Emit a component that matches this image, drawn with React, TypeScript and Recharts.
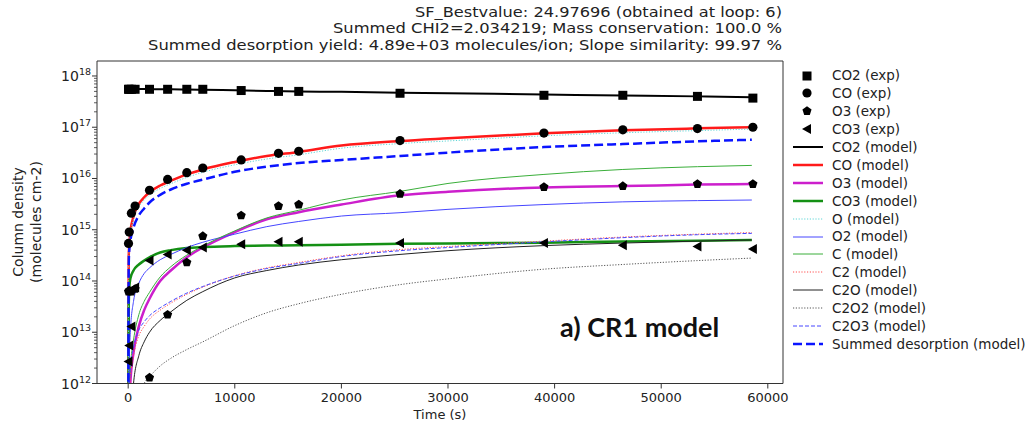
import React from 'react';
import { ComposedChart, Line, Scatter, XAxis, YAxis, Legend, ReferenceLine } from 'recharts';

const FONT = '"DejaVu Sans", "Liberation Sans", sans-serif';

// ---------- Data ----------
const titleLines = [
  'SF_Bestvalue: 24.97696 (obtained at loop: 6)',
  'Summed CHI2=2.034219; Mass conservation: 100.0 %',
  'Summed desorption yield: 4.89e+03 molecules/ion; Slope similarity: 99.97 %',
];
const titleWidths = [367, 449, 634];
const xTicks = [0, 10000, 20000, 30000, 40000, 50000, 60000];
const yMajorExp = [12, 13, 14, 15, 16, 17, 18];

const expTimes = [30, 100, 300, 650, 2000, 3700, 5500, 7000, 10600, 14100, 16000, 25500, 39000, 46400, 53400, 58600];
const co2Exp = [5.5e17, 5.5e17, 5.5e17, 5.5e17, 5.5e17, 5.5e17, 5.5e17, 5.5e17, 5.2e17, 5.0e17, 5.0e17, 4.6e17, 4.2e17, 4.2e17, 4.0e17, 3.7e17];
const coExp = [5.4e14, 9e14, 2.1e15, 2.9e15, 5.9e15, 9.6e15, 1.3e16, 1.6e16, 2.3e16, 3.1e16, 3.4e16, 5.5e16, 7.7e16, 8.9e16, 9.4e16, 1.0e17];
const o3Exp = [6.2e13, 6.5e13, 6.2e13, 7e13, 1.3e12, 2.2e13, 2.3e14, 7.5e14, 1.9e15, 2.9e15, 3.1e15, 5e15, 6.8e15, 7.1e15, 7.8e15, 7.8e15];
const co3Exp = [2.7e12, 5.5e12, 1.3e13, 7.5e13, 2.5e14, 3.3e14, 4.0e14, 4.5e14, 5.2e14, 5.8e14, 5.8e14, 5.5e14, 5.5e14, 5.0e14, 4.7e14, 4.2e14];

const modelTimes = [0, 50, 100, 200, 500, 1000, 1500, 2000, 3000, 4000, 5500, 7000, 10000, 13000, 16000, 20000, 25500, 30000, 39000, 46400, 53400, 58500];
const co2Model = [5.6e17, 5.6e17, 5.6e17, 5.6e17, 5.6e17, 5.6e17, 5.55e17, 5.55e17, 5.5e17, 5.5e17, 5.45e17, 5.4e17, 5.25e17, 5.1e17, 5.0e17, 4.9e17, 4.7e17, 4.6e17, 4.35e17, 4.15e17, 4.0e17, 3.85e17];
const coModel = [1e10, 3e14, 5e14, 9e14, 1.8e15, 3.2e15, 4.3e15, 5.4e15, 7.3e15, 9e15, 1.2e16, 1.5e16, 2.1e16, 2.75e16, 3.3e16, 4.4e16, 5.4e16, 6.1e16, 7.6e16, 8.7e16, 9.5e16, 1.0e17];
const o3Model = [1e10, 1e11, 3e11, 1e12, 4e12, 1.3e13, 2.7e13, 4.5e13, 1e14, 1.6e14, 2.9e14, 4.5e14, 9e14, 1.6e15, 2.2e15, 3.1e15, 4.7e15, 5.5e15, 6.7e15, 7.1e15, 7.6e15, 7.8e15];
const co3Model = [1e10, 3e13, 7e13, 1.1e14, 1.6e14, 2.1e14, 2.5e14, 2.9e14, 3.6e14, 4.0e14, 4.4e14, 4.6e14, 4.8e14, 4.9e14, 5.0e14, 5.1e14, 5.3e14, 5.4e14, 5.6e14, 5.9e14, 6.1e14, 6.3e14];
const oModel = [1e10, 2.5e14, 4.3e14, 7.8e14, 1.6e15, 2.8e15, 3.8e15, 4.7e15, 6.4e15, 7.9e15, 1.05e16, 1.32e16, 1.85e16, 2.4e16, 2.9e16, 3.9e16, 4.8e16, 5.4e16, 6.8e16, 7.8e16, 8.6e16, 9.2e16];
const o2Model = [1e10, 1e12, 3e12, 1e13, 4e13, 9e13, 1.4e14, 1.8e14, 2.6e14, 3.3e14, 4.5e14, 5.7e14, 8.2e14, 1.15e15, 1.45e15, 1.85e15, 2.15e15, 2.5e15, 3.1e15, 3.5e15, 3.7e15, 3.8e15];
const cModel = [1e10, 3e11, 8e11, 2e12, 7e12, 2.2e13, 4e13, 6e13, 1.2e14, 1.9e14, 3.2e14, 4.8e14, 9.5e14, 1.7e15, 2.4e15, 3.8e15, 5.6e15, 8e15, 1.2e16, 1.5e16, 1.7e16, 1.8e16];
const c2Model = [1e10, 1e11, 4e11, 1.2e12, 3.5e12, 8.5e12, 1.3e13, 1.8e13, 2.7e13, 3.7e13, 5.5e13, 7.6e13, 1.27e14, 1.8e14, 2.3e14, 3.1e14, 4.1e14, 4.7e14, 6.0e14, 7.2e14, 8.2e14, 8.8e14];
const c2oModel = [1e10, 1e10, 3e10, 1e11, 1e12, 3.5e12, 6.5e12, 1e13, 1.7e13, 2.5e13, 4.2e13, 6.2e13, 1.15e14, 1.6e14, 2.05e14, 2.6e14, 3.3e14, 3.9e14, 4.9e14, 5.5e14, 6e14, 6.3e14];
const c2o2Model = [1e10, 1e10, 1e10, 1e10, 1e11, 5e11, 1e12, 1.35e12, 2.2e12, 3.1e12, 4.6e12, 6.5e12, 1.35e13, 2.4e13, 3.6e13, 5.5e13, 8.5e13, 1.1e14, 1.7e14, 2.1e14, 2.5e14, 2.8e14];
const c2o3Model = [1e10, 3e11, 8e11, 2e12, 5e12, 1.1e13, 1.6e13, 2.1e13, 3e13, 4e13, 5.8e13, 7.8e13, 1.25e14, 1.75e14, 2.2e14, 3.0e14, 3.9e14, 4.5e14, 5.8e14, 7e14, 8e14, 8.5e14];
const summedModel = [1e10, 2e14, 4e14, 6e14, 1.1e15, 1.9e15, 2.6e15, 3.4e15, 4.8e15, 6.1e15, 7.9e15, 9.5e15, 1.35e16, 1.7e16, 2.0e16, 2.3e16, 2.75e16, 3.2e16, 4.1e16, 4.7e16, 5.3e16, 5.7e16];

// ---------- Helpers ----------
const toPoints = (ts: number[], vs: number[]) => ts.map((t, i) => ({ t, v: vs[i] }));

type Shape = 'square' | 'circle' | 'pentagon' | 'tri';

const drawMarker = (shape: Shape, cx: number, cy: number, key?: string) => {
  if (shape === 'square') return <rect key={key} x={cx - 4.5} y={cy - 4.5} width={9} height={9} fill="#000" />;
  if (shape === 'circle') return <circle key={key} cx={cx} cy={cy} r={4.6} fill="#000" />;
  if (shape === 'pentagon') {
    const r = 4.8;
    const pts = [0, 1, 2, 3, 4]
      .map((k) => {
        const a = -Math.PI / 2 + (k * 2 * Math.PI) / 5;
        return `${cx + r * Math.cos(a)},${cy + r * Math.sin(a)}`;
      })
      .join(' ');
    return <polygon key={key} points={pts} fill="#000" />;
  }
  return <polygon key={key} points={`${cx - 5},${cy} ${cx + 4},${cy - 5} ${cx + 4},${cy + 5}`} fill="#000" />;
};

const expSeries: { name: string; values: number[]; shape: Shape }[] = [
  { name: 'CO2 (exp)', values: co2Exp, shape: 'square' },
  { name: 'CO (exp)', values: coExp, shape: 'circle' },
  { name: 'O3 (exp)', values: o3Exp, shape: 'pentagon' },
  { name: 'CO3 (exp)', values: co3Exp, shape: 'tri' },
];

const modelSeries: { name: string; values: number[]; color: string; width: number; dash?: string }[] = [
  { name: 'CO2 (model)', values: co2Model, color: '#000000', width: 2 },
  { name: 'CO (model)', values: coModel, color: '#ff1a1a', width: 2.5 },
  { name: 'O3 (model)', values: o3Model, color: '#cc1fcc', width: 2.5 },
  { name: 'CO3 (model)', values: co3Model, color: '#149014', width: 2.5 },
  { name: 'O (model)', values: oModel, color: '#5fd6d6', width: 1, dash: '1.2 1.6' },
  { name: 'O2 (model)', values: o2Model, color: '#4646ff', width: 1 },
  { name: 'C (model)', values: cModel, color: '#3aae3a', width: 1 },
  { name: 'C2 (model)', values: c2Model, color: '#ff4d4d', width: 1, dash: '1.2 1.6' },
  { name: 'C2O (model)', values: c2oModel, color: '#222222', width: 1 },
  { name: 'C2O2 (model)', values: c2o2Model, color: '#555555', width: 1, dash: '1.2 1.6' },
  { name: 'C2O3 (model)', values: c2o3Model, color: '#4646ff', width: 1, dash: '4 2' },
  { name: 'Summed desorption (model)', values: summedModel, color: '#0a14ff', width: 2.5, dash: '9 4' },
];

const yTicks: number[] = [];
yMajorExp.forEach((e) => {
  yTicks.push(Math.pow(10, e));
  if (e < 18) for (let m = 2; m <= 9; m++) yTicks.push(m * Math.pow(10, e));
});

const LogTick = (props: any) => {
  const { x, y, payload } = props;
  const v = payload.value;
  const e = Math.log10(v);
  const major = Math.abs(e - Math.round(e)) < 1e-6;
  return (
    <g>
      <line x1={x - (major ? 5 : 3)} x2={x} y1={y} y2={y} stroke="#333" strokeWidth={major ? 1 : 0.8} />
      {major && (
        <text x={x - 6} y={y + 5} textAnchor="end" fontFamily={FONT} fontSize={14} fill="#222">
          10
          <tspan dy={-6} fontSize={9.5}>{Math.round(e)}</tspan>
        </text>
      )}
    </g>
  );
};

const LegendContent = () => {
  const rows = [
    ...expSeries.map((s) => ({ name: s.name, shape: s.shape as Shape | null, color: '', width: 0, dash: undefined as string | undefined })),
    ...modelSeries.map((s) => ({ name: s.name, shape: null as Shape | null, color: s.color, width: s.width, dash: s.dash })),
  ];
  return (
    <div style={{ fontFamily: FONT, fontSize: 13.5, color: '#222' }}>
      {rows.map((r) => (
        <div key={r.name} style={{ display: 'flex', alignItems: 'center', height: 17.9 }}>
          <svg width={47} height={17.9} style={{ flex: 'none' }}>
            {r.shape ? (
              drawMarker(r.shape, 22, 9, r.name)
            ) : (
              <line x1={8} x2={38} y1={9} y2={9} stroke={r.color} strokeWidth={r.width} strokeDasharray={r.dash} />
            )}
          </svg>
          <span style={{ whiteSpace: 'nowrap' }}>{r.name}</span>
        </div>
      ))}
    </div>
  );
};

const X_DOMAIN: [number, number] = [-2925, 61425];
const Y_DOMAIN: [number, number] = [1e12, 1.96e18];

export default function App() {
  return (
    <div style={{ position: 'absolute', left: 0, top: 0, width: 1030, height: 425, background: '#fff' }}>
      <ComposedChart width={1030} height={425} margin={{ top: 61, right: 247, bottom: 11.5, left: 37 }}>
        <XAxis
          dataKey="t"
          type="number"
          domain={X_DOMAIN}
          allowDataOverflow
          ticks={xTicks}
          interval={0}
          height={30}
          tickSize={5}
          tickMargin={4}
          tick={{ fontSize: 13, fontFamily: FONT, fill: '#222' }}
          stroke="#333"
        />
        <YAxis
          dataKey="v"
          type="number"
          scale="log"
          domain={Y_DOMAIN}
          allowDataOverflow
          ticks={yTicks}
          interval={0}
          width={60}
          tickSize={0}
          tickMargin={0}
          tickLine={false}
          tick={LogTick}
          stroke="#333"
        />
        {expSeries.map((s) => (
          <Scatter
            key={s.name}
            name={s.name}
            data={toPoints(expTimes, s.values)}
            dataKey="v"
            isAnimationActive={false}
            shape={(p: any) => drawMarker(s.shape, p.cx, p.cy)}
          />
        ))}
        {modelSeries.map((s) => (
          <Line
            key={s.name}
            name={s.name}
            data={toPoints(modelTimes, s.values)}
            dataKey="v"
            type="monotone"
            stroke={s.color}
            strokeWidth={s.width}
            strokeDasharray={s.dash}
            dot={false}
            activeDot={false}
            isAnimationActive={false}
          />
        ))}
        <ReferenceLine y={Y_DOMAIN[1]} stroke="#333" strokeWidth={1} ifOverflow="visible" />
        <ReferenceLine x={X_DOMAIN[1]} stroke="#333" strokeWidth={1} ifOverflow="visible" />
        <Legend
          layout="vertical"
          align="center"
          verticalAlign="middle"
          content={LegendContent}
          wrapperStyle={{ left: 785, top: 66.5, width: 245, height: 290 }}
        />
      </ComposedChart>
      <svg width={1030} height={425} style={{ position: 'absolute', left: 0, top: 0, pointerEvents: 'none' }}>
        {titleLines.map((t, i) => (
          <text
            key={t}
            x={782 - titleWidths[i]}
            y={16.5 + i * 16.5}
            textLength={titleWidths[i]}
            lengthAdjust="spacingAndGlyphs"
            fontFamily={FONT}
            fontSize={14.5}
            fill="#222"
          >
            {t}
          </text>
        ))}
        <text transform="translate(23,222) rotate(-90)" textAnchor="middle" fontFamily={FONT} fontSize={14} fill="#222">
          Column density
        </text>
        <text transform="translate(41,222) rotate(-90)" textAnchor="middle" fontFamily={FONT} fontSize={14} fill="#222">
          (molecules cm-2)
        </text>
        <text x={440} y={419} textAnchor="middle" fontFamily={FONT} fontSize={13} fill="#222">
          Time (s)
        </text>
        <text x={560} y={337} fontFamily="Lato, 'Open Sans', sans-serif" fontWeight={700} fontSize={27} fill="#111">
          a) CR1 model
        </text>
      </svg>
    </div>
  );
}
